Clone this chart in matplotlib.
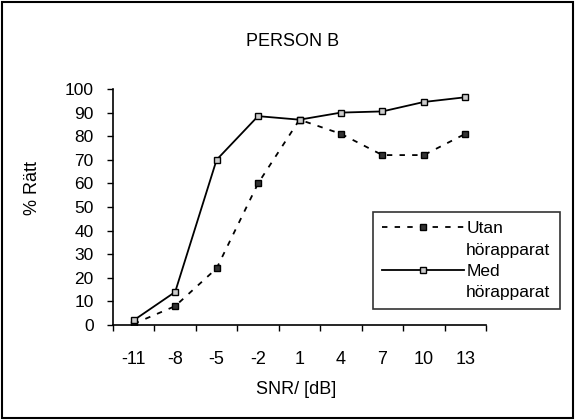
import matplotlib
matplotlib.use("Agg")
import matplotlib.pyplot as plt
from matplotlib.lines import Line2D
from matplotlib.patches import Rectangle

categories = ["-11", "-8", "-5", "-2", "1", "4", "7", "10", "13"]
utan = [0.5, 8, 24, 60, 87, 81, 72, 72, 81]
med = [2, 14, 70, 88.5, 87, 90, 90.5, 94.5, 96.5]
yticks = [0, 10, 20, 30, 40, 50, 60, 70, 80, 90, 100]
series_names = [("Utan", "hörapparat"), ("Med", "hörapparat")]

plt.rcParams['font.family'] = ['Liberation Sans', 'DejaVu Sans']

fig = plt.figure(figsize=(5.75, 4.2), dpi=100)
ax = fig.add_axes([113/575, 1-325/420, (486-113)/575, (325-89)/420])

x = list(range(len(categories)))
l1, = ax.plot(x, utan, linestyle=(0, (3, 4)), color='black', lw=1.3, marker='s',
              markersize=4.5, markerfacecolor='#333333', markeredgecolor='black')
l2, = ax.plot(x, med, linestyle='-', color='black', lw=1.3, marker='s',
              markersize=5, markerfacecolor='#cccccc', markeredgecolor='black')

ax.set_xlim(-0.5, len(categories) - 0.5)
ax.set_ylim(0, 100)
ax.set_yticks(yticks)
ax.set_xticks(x)
ax.set_xticklabels(categories)
ax.set_xticks([i - 0.5 for i in range(len(categories) + 1)], minor=True)
ax.tick_params(axis='x', which='major', length=0, pad=19, labelsize=13)
ax.tick_params(axis='x', which='minor', length=4, width=1, direction='out')
ax.tick_params(axis='y', length=4, width=1, direction='out', pad=10, labelsize=12.5)
for s in ['top', 'right']:
    ax.spines[s].set_visible(False)
for s in ['left', 'bottom']:
    ax.spines[s].set_linewidth(1.2)

ax.set_ylabel('% Rätt', fontsize=13)
ax.yaxis.set_label_coords((41-113)/373, (325-188)/236)
ax.set_xlabel('SNR/ [dB]', fontsize=13)
ax.xaxis.set_label_coords((296.5-113)/373, (325-381)/236)
fig.text(293/575, 1-42/420, 'PERSON B', ha='center', va='center', fontsize=13)

blank = Line2D([], [], linestyle='none')
handles = [l1, blank, l2, blank]
labels = [series_names[0][0], series_names[0][1], series_names[1][0], series_names[1][1]]
leg = ax.legend(handles, labels, loc='upper left',
                bbox_to_anchor=((373-113)/373, (325-212)/236),
                frameon=True, fancybox=False, fontsize=12.5, handlelength=4.75,
                handletextpad=0.1, labelspacing=0.36, borderpad=0.52,
                borderaxespad=0)
leg.get_frame().set_edgecolor('black')
leg.get_frame().set_linewidth(1.2)

fig.patches.append(Rectangle((0.004, 0.005), 0.992, 0.99, transform=fig.transFigure,
                             fill=False, edgecolor='black', linewidth=1.5))

fig.savefig('out.png', dpi=100)
